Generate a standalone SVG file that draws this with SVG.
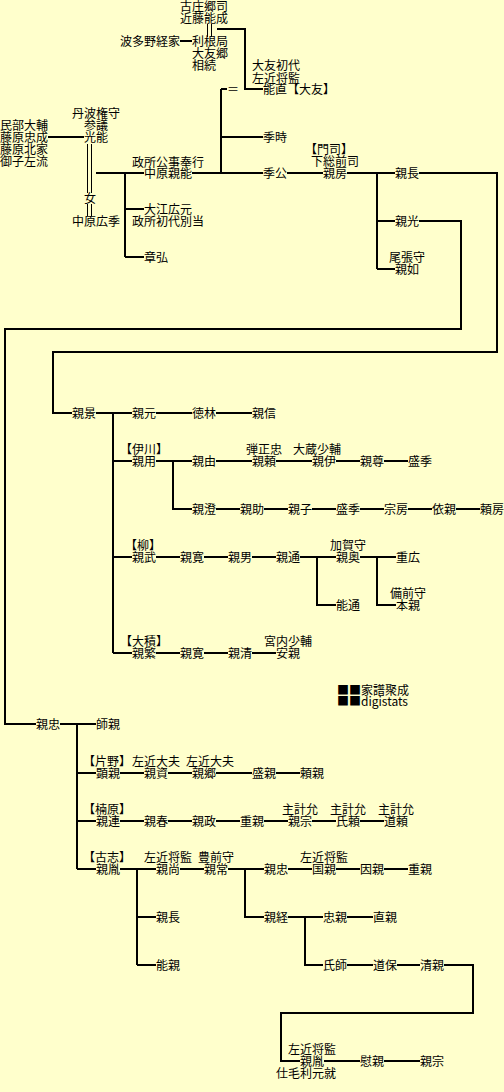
<svg xmlns="http://www.w3.org/2000/svg" width="504" height="1092" viewBox="0 0 504 1092">
<style>
text{font-family:"Noto Sans CJK JP","Noto Sans CJK SC",sans-serif;font-size:12px;fill:#000}
.l{fill:none;stroke:#000;stroke-width:2}
.d{fill:none;stroke:#000;stroke-width:1}
.m{text-anchor:middle}
</style>
<rect width="504" height="1092" fill="#ffffcc"/>
<g id="connectors">
<path class="l" d="M217,29 H245 V89 H263"/>
<path class="l" d="M180,41 H192"/>
<path class="d" d="M207.5,24 V37 M211.5,24 V37"/>
<path class="l" d="M221,89 V173 M221,89 H227 M221,137 H263"/>
<path class="l" d="M48,137 H84"/>
<path class="d" d="M87.5,144 V193 M91.5,144 V193 M87.5,204 V216 M91.5,204 V216"/>
<path class="l" d="M96,173 H144 M192,173 H263 M287,173 H323 M347,173 H395"/>
<path class="l" d="M419,173 H497 V352 H53 V413 H72"/>
<path class="l" d="M125,173 V257 M125,209 H144 M125,257 H144"/>
<path class="l" d="M377,173 V269 M377,221 H395 M377,269 H395"/>
<path class="l" d="M419,221 H461 V329 H5 V724 H36"/>
<path class="l" d="M96,413 H132 M113,413 V653 M156,413 H192 M216,413 H252"/>
<path class="l" d="M113,461 H132 M156,461 H192 M173,461 V509 H192 M216,461 H252 M276,461 H312 M336,461 H360 M384,461 H408"/>
<path class="l" d="M216,509 H240 M264,509 H288 M312,509 H336 M360,509 H384 M408,509 H432 M456,509 H480"/>
<path class="l" d="M113,557 H132 M156,557 H180 M204,557 H228 M252,557 H276 M300,557 H336 M317,557 V605 H336 M360,557 H396 M377,557 V605 H396"/>
<path class="l" d="M113,653 H132 M156,653 H180 M204,653 H228 M252,653 H276"/>
<path class="l" d="M60,724 H96 M77,724 V869"/>
<path class="l" d="M77,773 H96 M120,773 H144 M168,773 H192 M216,773 H252 M276,773 H300"/>
<path class="l" d="M77,821 H96 M120,821 H144 M168,821 H192 M216,821 H240 M264,821 H288 M312,821 H336 M360,821 H384"/>
<path class="l" d="M77,869 H96 M120,869 H156 M137,869 V965 M137,917 H156 M137,965 H156 M180,869 H204 M228,869 H264 M245,869 V917 H264 M288,869 H312 M336,869 H360 M384,869 H408"/>
<path class="l" d="M288,917 H323 M305,917 V965 H323 M347,917 H373 M347,965 H373 M397,965 H420"/>
<path class="l" d="M444,965 H473 V1013 H281 V1061 H300 M324,1061 H360 M384,1061 H420"/>
</g>
<g id="n-kondo"><text x="180" y="11">古庄郷司</text><text x="180" y="23">近藤能成</text></g>
<g id="n-hatano"><text x="120" y="46">波多野経家</text></g>
<g id="n-tone"><text x="192" y="46">利根局</text><text x="192" y="58">大友郷</text><text x="192" y="70">相続</text></g>
<g id="n-yoshinao"><text x="252" y="70">大友初代</text><text x="252" y="83">左近将監</text><text x="263" y="94">能直【大友】</text></g>
<g id="n-eq"><text x="227" y="94">＝</text></g>
<g id="n-suetoki"><text x="263" y="142">季時</text></g>
<g id="n-mitsuyoshi"><text x="72" y="118">丹波権守</text><text x="84" y="130">参議</text><text x="84" y="142">光能</text></g>
<g id="n-tadanari"><text x="0" y="130">民部大輔</text><text x="0" y="142">藤原忠成</text><text x="0" y="154">藤原北家</text><text x="0" y="166">御子左流</text></g>
<g id="n-onna"><text x="84" y="203">女</text></g>
<g id="n-hirosue"><text x="72" y="226">中原広季</text></g>
<g id="n-chikayoshi"><text x="132" y="167">政所公事奉行</text><text x="144" y="178">中原親能</text></g>
<g id="n-hiromoto"><text x="144" y="214">大江広元</text><text x="132" y="226">政所初代別当</text></g>
<g id="n-akihiro"><text x="144" y="262">章弘</text></g>
<g id="n-suekimi"><text x="263" y="178">季公</text></g>
<g id="n-chikafusa"><text x="305" y="154">【門司】</text><text x="311" y="166">下総前司</text><text x="323" y="178">親房</text></g>
<g id="n-chikanaga"><text x="395" y="178">親長</text></g>
<g id="n-chikamitsu"><text x="395" y="226">親光</text></g>
<g id="n-chikayuki"><text x="389" y="262">尾張守</text><text x="395" y="274">親如</text></g>
<g id="n-chikakage"><text x="72" y="418">親景</text></g>
<g id="n-chikamoto"><text x="132" y="418">親元</text></g>
<g id="n-tokurin"><text x="192" y="418">徳林</text></g>
<g id="n-chikanobu"><text x="252" y="418">親信</text></g>
<g id="n-chikamochi"><text x="120" y="454">【伊川】</text><text x="132" y="466">親用</text></g>
<g id="n-chikayoshi2"><text x="192" y="466">親由</text></g>
<g id="n-chikayori"><text x="246" y="454">弾正忠</text><text x="252" y="466">親頼</text></g>
<g id="n-chikakore"><text x="293" y="454">大蔵少輔</text><text x="312" y="466">親伊</text></g>
<g id="n-chikataka"><text x="360" y="466">親尊</text></g>
<g id="n-morisue"><text x="408" y="466">盛季</text></g>
<g id="n-chikazumi"><text x="192" y="514">親澄</text></g>
<g id="n-chikasuke"><text x="240" y="514">親助</text></g>
<g id="n-chikako"><text x="288" y="514">親子</text></g>
<g id="n-morisue2"><text x="336" y="514">盛季</text></g>
<g id="n-munefusa"><text x="384" y="514">宗房</text></g>
<g id="n-yorichika"><text x="432" y="514">依親</text></g>
<g id="n-yorifusa"><text x="480" y="514">頼房</text></g>
<g id="n-chikatake"><text x="125" y="550">【柳】</text><text x="132" y="562">親武</text></g>
<g id="n-chikahiro"><text x="180" y="562">親寛</text></g>
<g id="n-chikao"><text x="228" y="562">親男</text></g>
<g id="n-chikamichi"><text x="276" y="562">親通</text></g>
<g id="n-chikaoku"><text x="330" y="550">加賀守</text><text x="336" y="562">親奥</text></g>
<g id="n-shigehiro"><text x="396" y="562">重広</text></g>
<g id="n-yoshimichi"><text x="336" y="610">能通</text></g>
<g id="n-motochika"><text x="390" y="598">備前守</text><text x="396" y="610">本親</text></g>
<g id="n-chikashige"><text x="120" y="646">【大積】</text><text x="132" y="658">親繁</text></g>
<g id="n-chikahiro2"><text x="180" y="658">親寛</text></g>
<g id="n-chikakiyo"><text x="228" y="658">親清</text></g>
<g id="n-yasuchika"><text x="264" y="646">宮内少輔</text><text x="276" y="658">安親</text></g>
<g id="legend"><text x="337" y="695">■■家譜聚成</text><text x="337" y="706">■■digistats</text></g>
<g id="n-chikatada"><text x="36" y="729">親忠</text></g>
<g id="n-morochika"><text x="96" y="729">師親</text></g>
<g id="n-akichika"><text x="83" y="766">【片野】</text><text x="96" y="778">顕親</text></g>
<g id="n-chikasuke2"><text x="132" y="766">左近大夫</text><text x="144" y="778">親資</text></g>
<g id="n-chikasato"><text x="186" y="766">左近大夫</text><text x="192" y="778">親郷</text></g>
<g id="n-morichika"><text x="252" y="778">盛親</text></g>
<g id="n-yorichika2"><text x="300" y="778">頼親</text></g>
<g id="n-chikatsura"><text x="83" y="814">【楠原】</text><text x="96" y="826">親連</text></g>
<g id="n-chikaharu"><text x="144" y="826">親春</text></g>
<g id="n-chikamasa"><text x="192" y="826">親政</text></g>
<g id="n-shigechika"><text x="240" y="826">重親</text></g>
<g id="n-chikamune"><text x="282" y="814">主計允</text><text x="288" y="826">親宗</text></g>
<g id="n-ujiyori"><text x="330" y="814">主計允</text><text x="336" y="826">氏頼</text></g>
<g id="n-michiyori"><text x="378" y="814">主計允</text><text x="384" y="826">道頼</text></g>
<g id="n-chikatane"><text x="83" y="862">【古志】</text><text x="96" y="874">親胤</text></g>
<g id="n-chikanao"><text x="144" y="862">左近将監</text><text x="156" y="874">親尚</text></g>
<g id="n-chikatsune"><text x="198" y="862">豊前守</text><text x="204" y="874">親常</text></g>
<g id="n-chikatada2"><text x="264" y="874">親忠</text></g>
<g id="n-kunichika"><text x="300" y="862">左近将監</text><text x="312" y="874">国親</text></g>
<g id="n-inchika"><text x="360" y="874">因親</text></g>
<g id="n-shigechika2"><text x="408" y="874">重親</text></g>
<g id="n-chikanaga2"><text x="156" y="922">親長</text></g>
<g id="n-yoshichika"><text x="156" y="970">能親</text></g>
<g id="n-chikatsune2"><text x="264" y="922">親経</text></g>
<g id="n-tadachika"><text x="323" y="922">忠親</text></g>
<g id="n-naochika"><text x="373" y="922">直親</text></g>
<g id="n-ujimoro"><text x="323" y="970">氏師</text></g>
<g id="n-michiyasu"><text x="373" y="970">道保</text></g>
<g id="n-kiyochika"><text x="420" y="970">清親</text></g>
<g id="n-chikatane2"><text x="288" y="1054">左近将監</text><text x="300" y="1066">親胤</text><text x="276" y="1078">仕毛利元就</text></g>
<g id="n-yasuchika2"><text x="360" y="1066">慰親</text></g>
<g id="n-chikamune2"><text x="420" y="1066">親宗</text></g>
</svg>
